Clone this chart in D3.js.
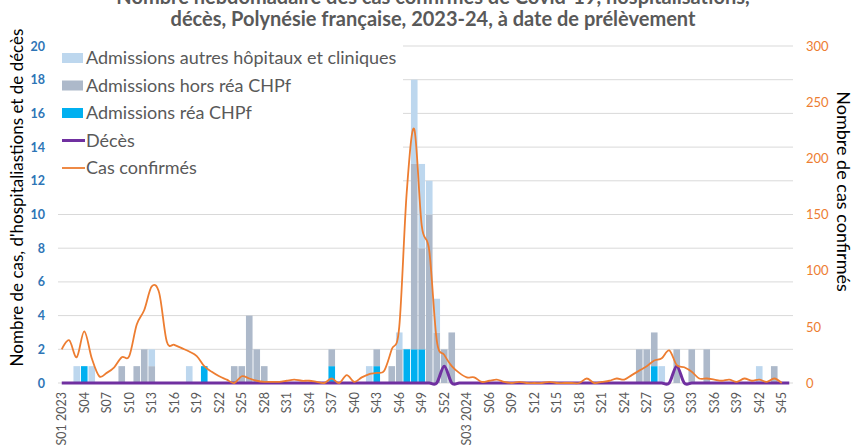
<!DOCTYPE html>
<html>
<head>
<meta charset="utf-8">
<script src="https://cdn.jsdelivr.net/npm/d3@7"></script>
<style>
  body { margin: 0; background: #fff; }
  text { font-family: "Lato", "Open Sans", sans-serif; }
</style>
</head>
<body>
<svg id="chart" width="854" height="446"></svg>
<script>
// semaines S01 2023 -> S46 2024
var weeks = [
  "S01 2023","S02","S03","S04","S05","S06","S07","S08","S09","S10","S11","S12","S13",
  "S14","S15","S16","S17","S18","S19","S20","S21","S22","S23","S24","S25","S26",
  "S27","S28","S29","S30","S31","S32","S33","S34","S35","S36","S37","S38","S39",
  "S40","S41","S42","S43","S44","S45","S46","S47","S48","S49","S50","S51","S52",
  "S01 2024","S02 2024","S03 2024","S04","S05","S06","S07","S08","S09","S10","S11","S12","S13",
  "S14","S15","S16","S17","S18","S19","S20","S21","S22","S23","S24","S25","S26",
  "S27","S28","S29","S30","S31","S32","S33","S34","S35","S36","S37","S38","S39",
  "S40","S41","S42","S43","S44","S45","S46"
];

var reaCHPf = [
  0,0,0,1,0,0,0,0,0,0,0,0,0, 0,0,0,0,0,0,1,0,0,0,0,0,0,
  0,0,0,0,0,0,0,0,0,0,1,0,0, 0,0,0,1,0,0,0,2,2,2,0,0,0,
  0,0,0,0,0,0,0,0,0,0,0,0,0, 0,0,0,0,0,0,0,0,0,0,0,0,0,
  0,1,0,0,0,0,0,0,0,0,0,0,0, 0,0,0,0,0,0,0
];
var horsReaCHPf = [
  0,0,0,0,0,0,0,0,1,0,1,2,1, 0,0,0,0,0,0,0,0,0,0,1,1,4,
  2,1,0,0,0,0,0,0,0,0,1,0,0, 0,0,0,1,0,1,2,0,11,6,10,3,2,
  3,0,0,0,0,0,0,0,0,0,0,0,0, 0,0,0,0,0,0,0,0,0,0,0,0,2,
  2,2,0,0,2,0,2,0,2,0,0,0,0, 0,0,0,0,1,0,0
];
var autresHopitaux = [
  0,0,1,0,1,0,0,0,0,0,0,0,1, 0,0,0,0,1,0,0,0,0,0,0,0,0,
  0,0,0,0,0,0,0,0,0,0,0,0,0, 0,0,1,0,0,0,1,0,5,5,2,2,0,
  0,0,0,0,0,0,0,0,0,0,0,0,0, 0,0,0,0,0,0,0,0,0,0,0,0,0,
  0,0,1,0,0,0,0,0,0,0,0,0,0, 0,0,1,0,0,0,0
];
var deces = [
  0,0,0,0,0,0,0,0,0,0,0,0,0, 0,0,0,0,0,0,0,0,0,0,0,0,0,
  0,0,0,0,0,0,0,0,0,0,0,0,0, 0,0,0,0,0,0,0,0,0,0,0,0,1,
  0,0,0,0,0,0,0,0,0,0,0,0,0, 0,0,0,0,0,0,0,0,0,0,0,0,0,
  0,0,0,0,1,0,0,0,0,0,0,0,0, 0,0,0,0,0,0,0
];
// cas confirmés, axe secondaire (jusqu'a S45 2024)
var casConfirmes = [
  30,38,23,46,22,6,9,14,23,24,52,65,86, 80,37,34,31,28,24,15,10,6,3,0,6,4,
  2,1,1,1,2,3,2,2,1,0,4,0,7, 1,5,8,9,11,30,50,170,226,140,118,38,25,
  15,9,5,5,1,2,3,1,0,1,0,0,0, 1,0,0,0,0,4,0,1,2,4,3,7,11,
  15,20,22,29,16,14,10,4,4,3,2,3,1, 4,2,3,1,4,0
];

var leftTicks = [0,2,4,6,8,10,12,14,16,18,20];
var rightTicks = [0,50,100,150,200,250,300];

var seriesNames = ["Admissions réa CHPf", "Admissions hors réa CHPf", "Admissions autres hôpitaux et cliniques"];
var seriesColors = ["#00B0F0", "#ADB9CA", "#BDD7EE"];

var margin = { top: 46, right: 61, bottom: 63, left: 58 };
var width = 854 - margin.left - margin.right;
var height = 446 - margin.top - margin.bottom;

var svg = d3.select("#chart");
var g = svg.append("g").attr("transform", `translate(${margin.left}, ${margin.top})`);

var x = d3.scaleBand().domain(weeks.map((w, i) => i)).range([0, width]).paddingInner(0.12).paddingOuter(0.06);
var y = d3.scaleLinear().domain([0, 20]).range([height, 0]);
var y2 = d3.scaleLinear().domain([0, 300]).range([height, 0]);
var cx = i => x(i) + x.bandwidth() / 2;

// grid
g.append("g")
  .selectAll("line")
  .data(leftTicks)
  .enter().append("line")
  .attr("x1", 0).attr("x2", width)
  .attr("y1", d => y(d)).attr("y2", d => y(d))
  .attr("stroke", "#D9D9D9").attr("stroke-width", 1);

// stacked bars
var rows = weeks.map((w, i) => ({ i: i, rea: reaCHPf[i], hors: horsReaCHPf[i], autres: autresHopitaux[i] }));
var stack = d3.stack().keys(["rea", "hors", "autres"])(rows);

g.append("g").selectAll("g")
  .data(stack)
  .enter().append("g")
  .attr("fill", (d, k) => seriesColors[k])
  .selectAll("rect")
  .data(d => d.filter(p => p[1] > p[0]))
  .enter().append("rect")
  .attr("x", d => x(d.data.i))
  .attr("width", x.bandwidth())
  .attr("y", d => y(d[1]))
  .attr("height", d => y(d[0]) - y(d[1]));

// lines
var decesLine = d3.line()
  .x((d, i) => cx(i))
  .y(d => y(d))
  .curve(d3.curveCardinal.tension(0));

g.append("path")
  .datum(deces)
  .attr("fill", "none")
  .attr("stroke", "#7030A0")
  .attr("stroke-width", 3)
  .attr("stroke-linejoin", "round")
  .attr("d", decesLine);

var casLine = d3.line()
  .x((d, i) => cx(i))
  .y(d => y2(d))
  .curve(d3.curveCardinal.tension(0));

g.append("path")
  .datum(casConfirmes)
  .attr("fill", "none")
  .attr("stroke", "#ED7D31")
  .attr("stroke-width", 1.8)
  .attr("d", casLine);

// left axis
var yAxis = g.append("g")
  .call(d3.axisLeft(y).tickValues(leftTicks).tickSize(0).tickPadding(13));
yAxis.select(".domain").remove();
yAxis.selectAll("text")
  .attr("fill", "#2E75B6")
  .style("font-size", "12.5px")
  .style("font-weight", "bold");

// right axis
var y2Axis = g.append("g")
  .attr("transform", `translate(${width}, 0)`)
  .call(d3.axisRight(y2).tickValues(rightTicks).tickSize(0).tickPadding(13));
y2Axis.select(".domain").remove();
y2Axis.selectAll("text")
  .attr("fill", "#ED7D31")
  .style("font-size", "13px");

// x labels, one every 3 weeks
g.append("g")
  .selectAll("text")
  .data(weeks.map((w, i) => i).filter(i => i % 3 === 0))
  .enter().append("text")
  .attr("transform", i => `translate(${cx(i)}, ${height + 9}) rotate(-90)`)
  .attr("text-anchor", "end")
  .attr("dy", "0.35em")
  .attr("fill", "#595959")
  .style("font-size", "12.5px")
  .text(i => weeks[i]);

// axis titles
svg.append("text")
  .attr("transform", `translate(23, ${margin.top + height / 2 - 17}) rotate(-90)`)
  .attr("text-anchor", "middle")
  .attr("fill", "#000")
  .style("font-size", "17px")
  .text("Nombre de cas, d'hospitaliastions et de décès");

svg.append("text")
  .attr("transform", `translate(837, ${margin.top + height / 2 - 23}) rotate(90)`)
  .attr("text-anchor", "middle")
  .attr("fill", "#000")
  .style("font-size", "18px")
  .text("Nombre de cas confirmés");

// title (first line runs off the top, as in the source)
var title = svg.append("text")
  .attr("text-anchor", "middle")
  .attr("fill", "#595959")
  .style("font-size", "20px")
  .style("font-weight", "bold");
title.append("tspan").attr("x", 433).attr("y", 4)
  .text("Nombre hebdomadaire des cas confirmés de Covid-19, hospitalisations,");
title.append("tspan").attr("x", 433).attr("y", 26)
  .text("décès, Polynésie française, 2023-24, à date de prélèvement");

// legend
var legend = svg.append("g").attr("transform", "translate(62, 58)");
legend.append("rect")
  .attr("x", -4).attr("y", -20)
  .attr("width", 345).attr("height", 146)
  .attr("fill", "#fff");

var legendItems = [
  { name: seriesNames[2], color: seriesColors[2], type: "rect" },
  { name: seriesNames[1], color: seriesColors[1], type: "rect" },
  { name: seriesNames[0], color: seriesColors[0], type: "rect" },
  { name: "Décès", color: "#7030A0", type: "line", w: 3 },
  { name: "Cas confirmés", color: "#ED7D31", type: "line", w: 1.8 }
];

var li = legend.selectAll(".li")
  .data(legendItems)
  .enter().append("g")
  .attr("class", "li")
  .attr("transform", (d, i) => `translate(0, ${i * 27.5})`);

li.filter(d => d.type === "rect").append("rect")
  .attr("x", 0).attr("y", -5)
  .attr("width", 21).attr("height", 10)
  .attr("fill", d => d.color);

li.filter(d => d.type === "line").append("line")
  .attr("x1", 0).attr("x2", 23)
  .attr("y1", 0).attr("y2", 0)
  .attr("stroke", d => d.color)
  .attr("stroke-width", d => d.w);

li.append("text")
  .attr("x", 24)
  .attr("dy", "0.35em")
  .attr("fill", "#595959")
  .style("font-size", "18px")
  .text(d => d.name);
</script>
</body>
</html>
